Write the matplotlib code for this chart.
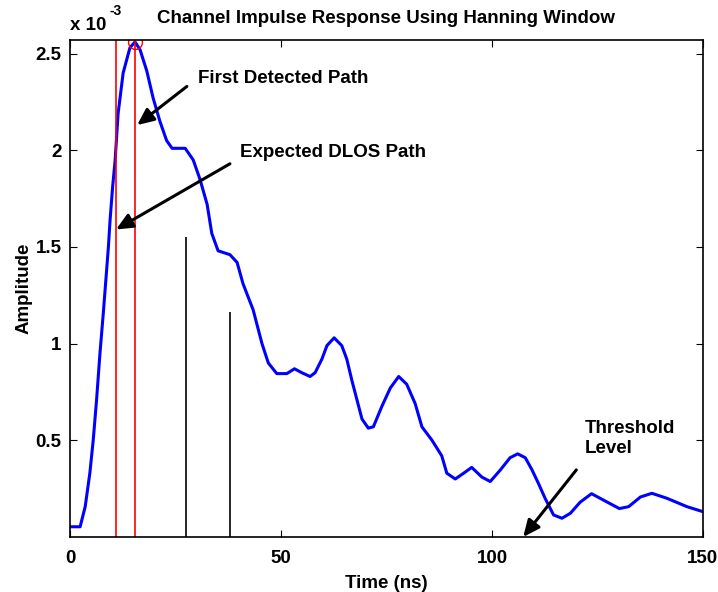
import matplotlib
matplotlib.use('Agg')
import matplotlib.pyplot as plt
import numpy as np

plt.rcParams['font.family'] = ['Liberation Sans', 'DejaVu Sans']
plt.rcParams['font.weight'] = 'bold'

# impulse response (time in ns, amplitude in 1e-3)
t_ns = [0, 2.4, 3.6, 4.7, 5.5, 6.3, 7.1, 7.9, 8.5, 9.1, 9.5, 10.1, 10.7, 11.4,
        12.6, 14.2, 15.4, 16.6, 18.2, 19.7, 21.3, 22.9, 24.2, 27.3, 29.2, 30.8,
        32.5, 33.6, 35.1, 37.9, 39.6, 41.0, 43.4, 45.5, 47.0, 49.0, 51.4, 53.2,
        54.9, 56.9, 58.1, 59.7, 60.9, 62.6, 64.4, 65.6, 66.8, 68.0, 69.2, 70.7,
        71.9, 73.9, 75.9, 77.9, 79.8, 81.8, 83.4, 85.8, 88.1, 89.3, 91.3, 93.3,
        95.2, 97.6, 99.6, 102.0, 104.3, 106.1, 107.9, 109.5, 111.0, 112.6,
        114.6, 116.6, 118.6, 120.9, 123.6, 126.5, 130.2, 132.4, 135.2, 137.9,
        141.5, 146.2, 150.0]
amp = [0.053, 0.053, 0.157, 0.33, 0.50, 0.71, 0.95, 1.16, 1.33, 1.50, 1.64,
       1.81, 1.95, 2.19, 2.40, 2.53, 2.56, 2.52, 2.41, 2.27, 2.15, 2.05, 2.01,
       2.01, 1.95, 1.85, 1.72, 1.57, 1.48, 1.46, 1.42, 1.31, 1.175, 1.00, 0.90,
       0.845, 0.845, 0.87, 0.85, 0.83, 0.85, 0.92, 0.99, 1.03, 0.99, 0.92, 0.81,
       0.71, 0.61, 0.563, 0.57, 0.675, 0.77, 0.83, 0.79, 0.69, 0.57, 0.50,
       0.42, 0.33, 0.30, 0.33, 0.36, 0.31, 0.287, 0.347, 0.41, 0.43, 0.41,
       0.347, 0.278, 0.20, 0.114, 0.097, 0.123, 0.18, 0.224, 0.19, 0.147,
       0.157, 0.207, 0.226, 0.20, 0.157, 0.131]

red_lines = [10.9, 15.4]          # expected DLOS, first detected
stem_t = [27.5, 37.9]
stem_amp = [1.55, 1.165]
peak_t, peak_amp = 15.4, 2.56

fs = 13.5

fig = plt.figure(figsize=(7.18, 5.92), dpi=100)
ax = fig.add_axes([0.0975, 0.0929, 0.8815, 0.8395])

ax.plot(t_ns, amp, color='#0000ff', lw=2.2)
for xv in red_lines:
    ax.axvline(xv, color='red', lw=1.2)
ax.vlines(stem_t, 0, stem_amp, color='k', lw=1.2)
ax.plot([peak_t], [peak_amp], 'o', mfc='none', mec='red', ms=10, mew=1)

arrow = dict(arrowstyle='-|>,head_length=1.0,head_width=0.45', color='k', lw=2.2,
             shrinkA=0, shrinkB=0)
ax.annotate('', xy=(15.9, 2.13), xytext=(27.7, 2.33), arrowprops=arrow)
ax.annotate('', xy=(10.9, 1.59), xytext=(37.9, 1.93), arrowprops=arrow)
ax.annotate('', xy=(107.4, 0.0), xytext=(120.0, 0.347), arrowprops=arrow)

ax.text(30.4, 2.37, 'First Detected Path', fontsize=fs, va='center', ha='left')
ax.text(40.3, 1.99, 'Expected DLOS Path', fontsize=fs, va='center', ha='left')
ax.text(121.9, 0.51, 'Threshold\nLevel', fontsize=fs, va='center', ha='left',
        linespacing=1.25)

ax.set_xlim(0, 150)
ax.set_ylim(0, 2.57)
ax.set_xticks([0, 50, 100, 150])
ax.set_yticks([0.5, 1, 1.5, 2, 2.5])
ax.set_yticklabels(['0.5', '1', '1.5', '2', '2.5'])
ax.tick_params(direction='in', labelsize=fs, length=5, top=True, right=True,
               labeltop=False, labelright=False, pad=6)
ax.tick_params(axis='x', pad=9)
for lab in ax.get_xticklabels() + ax.get_yticklabels():
    lab.set_fontweight('bold')
for s in ax.spines.values():
    s.set_linewidth(1.2)

ax.set_xlabel('Time (ns)', fontsize=fs, fontweight='bold', labelpad=6)
ax.set_ylabel('Amplitude', fontsize=fs, fontweight='bold', labelpad=2)
ax.set_title('Channel Impulse Response Using Hanning Window', fontsize=fs,
             fontweight='bold', pad=12)
ax.text(0, 1.012, 'x 10', transform=ax.transAxes, fontsize=fs,
        fontweight='bold', ha='left', va='bottom')
ax.text(0.063, 1.045, '-3', transform=ax.transAxes, fontsize=10,
        fontweight='bold', ha='left', va='bottom')

fig.savefig('out.png', dpi=100)
